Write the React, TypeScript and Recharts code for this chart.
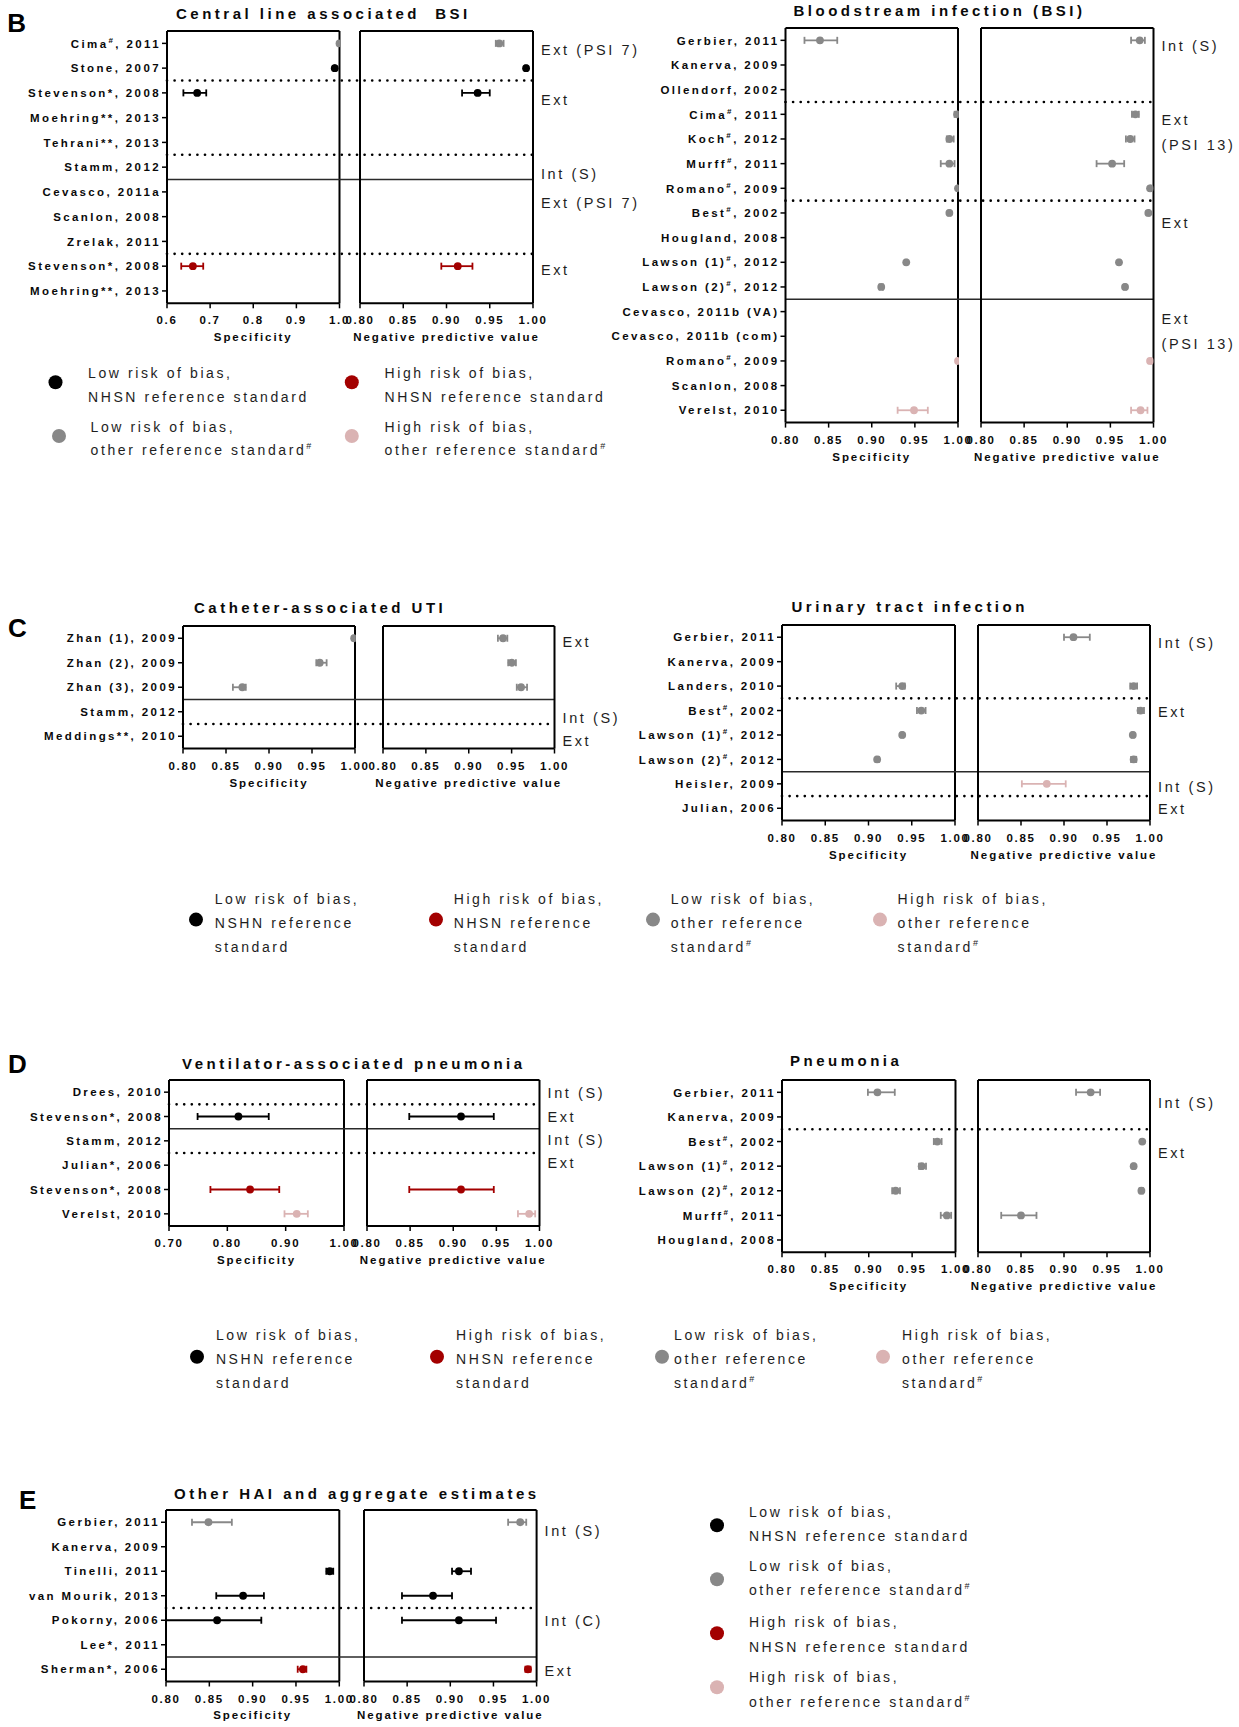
import React from 'react';
import { ScatterChart, Scatter, XAxis, YAxis, ErrorBar, ReferenceLine } from 'recharts';

// estimate, lower CI, upper CI
type Est = [number, number, number] | null;
// risk of bias + reference standard: low/high, NHSN/other
type Bias = 'ln' | 'lo' | 'hn' | 'ho';
// separator drawn below a row
type Brk = [number, 'dot' | 'line'];

const BIAS_COLOR: Record<Bias, string> = { ln: '#000000', lo: '#888888', hn: '#a30000', ho: '#dab3b3' };
const BIAS_ORDER: Bias[] = ['lo', 'ho', 'ln', 'hn'];

const ticks06 = [0.6, 0.7, 0.8, 0.9, 1.0];
const ticks07 = [0.7, 0.8, 0.9, 1.0];
const ticks08 = [0.8, 0.85, 0.9, 0.95, 1.0];

// B, left: central line associated BSI
const clabsiStudies = ['Cima#, 2011', 'Stone, 2007', 'Stevenson*, 2008', 'Moehring**, 2013', 'Tehrani**, 2013', 'Stamm, 2012', 'Cevasco, 2011a', 'Scanlon, 2008', 'Zrelak, 2011', 'Stevenson*, 2008', 'Moehring**, 2013'];
const clabsiBias: Bias[] = ['lo', 'ln', 'ln', 'ln', 'ln', 'ln', 'hn', 'hn', 'hn', 'hn', 'hn'];
const clabsiSpec: Est[] = [[1.0, 0.999, 1.0], [0.989, 0.988, 0.99], [0.67, 0.638, 0.691], null, null, null, null, null, null, [0.66, 0.633, 0.684], null];
const clabsiNpv: Est[] = [[0.961, 0.957, 0.966], [0.992, 0.991, 0.993], [0.936, 0.918, 0.95], null, null, null, null, null, null, [0.913, 0.894, 0.93], null];
const clabsiBreaks: Brk[] = [[1, 'dot'], [4, 'dot'], [5, 'line'], [8, 'dot']];
const clabsiGroups = ['Ext (PSI 7)', 'Ext', 'Int (S)', 'Ext (PSI 7)', 'Ext'];
const clabsiGroupRows = [0.28, 2.27, 5.26, 6.44, 9.16];

// B, right: bloodstream infection
const bsiStudies = ['Gerbier, 2011', 'Kanerva, 2009', 'Ollendorf, 2002', 'Cima#, 2011', 'Koch#, 2012', 'Murff#, 2011', 'Romano#, 2009', 'Best#, 2002', 'Hougland, 2008', 'Lawson (1)#, 2012', 'Lawson (2)#, 2012', 'Cevasco, 2011b (VA)', 'Cevasco, 2011b (com)', 'Romano#, 2009', 'Scanlon, 2008', 'Verelst, 2010'];
const bsiBias: Bias[] = ['lo', 'lo', 'lo', 'lo', 'lo', 'lo', 'lo', 'lo', 'lo', 'lo', 'lo', 'ho', 'ho', 'ho', 'ho', 'ho'];
const bsiSpec: Est[] = [[0.84, 0.822, 0.86], null, null, [0.999, 0.996, 1.0], [0.99, 0.987, 0.995], [0.99, 0.98, 0.996], [1.0, 0.999, 1.0], [0.99, 0.989, 0.991], null, [0.94, 0.939, 0.941], [0.911, 0.909, 0.913], null, null, [1.0, 1.0, 1.0], null, [0.949, 0.93, 0.965]];
const bsiNpv: Est[] = [[0.984, 0.974, 0.99], null, null, [0.979, 0.975, 0.983], [0.973, 0.968, 0.978], [0.952, 0.934, 0.966], [0.996, 0.996, 0.997], [0.994, 0.994, 0.995], null, [0.96, 0.959, 0.961], [0.967, 0.966, 0.968], null, null, [0.996, 0.996, 0.997], null, [0.985, 0.974, 0.993]];
const bsiBreaks: Brk[] = [[2, 'dot'], [6, 'dot'], [10, 'line']];
const bsiGroups = ['Int (S)', 'Ext\n(PSI 13)', 'Ext', 'Ext\n(PSI 13)'];
const bsiGroupRows = [0.24, 3.72, 7.4, 11.79];

// C, left: catheter-associated UTI
const cautiStudies = ['Zhan (1), 2009', 'Zhan (2), 2009', 'Zhan (3), 2009', 'Stamm, 2012', 'Meddings**, 2010'];
const cautiBias: Bias[] = ['lo', 'lo', 'lo', 'ln', 'ln'];
const cautiSpec: Est[] = [[0.999, 0.998, 1.0], [0.959, 0.955, 0.967], [0.869, 0.858, 0.873], null, null];
const cautiNpv: Est[] = [[0.94, 0.934, 0.945], [0.95, 0.946, 0.955], [0.961, 0.956, 0.968], null, null];
const cautiBreaks: Brk[] = [[2, 'line'], [3, 'dot']];
const cautiGroups = ['Ext', 'Int (S)', 'Ext'];
const cautiGroupRows = [0.14, 3.24, 4.21];

// C, right: urinary tract infection
const utiStudies = ['Gerbier, 2011', 'Kanerva, 2009', 'Landers, 2010', 'Best#, 2002', 'Lawson (1)#, 2012', 'Lawson (2)#, 2012', 'Heisler, 2009', 'Julian, 2006'];
const utiBias: Bias[] = ['lo', 'lo', 'lo', 'lo', 'lo', 'lo', 'ho', 'ho'];
const utiSpec: Est[] = [null, null, [0.939, 0.932, 0.942], [0.961, 0.956, 0.966], [0.939, 0.938, 0.94], [0.91, 0.909, 0.912], null, null];
const utiNpv: Est[] = [[0.911, 0.9, 0.93], null, [0.981, 0.977, 0.985], [0.989, 0.986, 0.993], [0.98, 0.979, 0.981], [0.981, 0.978, 0.984], [0.88, 0.851, 0.902], null];
const utiBreaks: Brk[] = [[2, 'dot'], [5, 'line'], [6, 'dot']];
const utiGroups = ['Int (S)', 'Ext', 'Int (S)', 'Ext'];
const utiGroupRows = [0.25, 3.07, 6.14, 7.04];

// D, left: ventilator-associated pneumonia
const vapStudies = ['Drees, 2010', 'Stevenson*, 2008', 'Stamm, 2012', 'Julian*, 2006', 'Stevenson*, 2008', 'Verelst, 2010'];
const vapBias: Bias[] = ['ln', 'ln', 'ln', 'hn', 'hn', 'ho'];
const vapSpec: Est[] = [null, [0.819, 0.749, 0.871], null, null, [0.839, 0.771, 0.889], [0.919, 0.898, 0.938]];
const vapNpv: Est[] = [null, [0.909, 0.849, 0.947], null, null, [0.909, 0.849, 0.947], [0.988, 0.975, 0.995]];
const vapBreaks: Brk[] = [[0, 'dot'], [1, 'line'], [2, 'dot']];
const vapGroups = ['Int (S)', 'Ext', 'Int (S)', 'Ext'];
const vapGroupRows = [0.05, 1.03, 1.97, 2.92];

// D, right: pneumonia
const pneuStudies = ['Gerbier, 2011', 'Kanerva, 2009', 'Best#, 2002', 'Lawson (1)#, 2012', 'Lawson (2)#, 2012', 'Murff#, 2011', 'Hougland, 2008'];
const pneuBias: Bias[] = ['lo', 'lo', 'lo', 'lo', 'lo', 'lo', 'lo'];
const pneuSpec: Est[] = [[0.91, 0.899, 0.93], null, [0.979, 0.975, 0.984], [0.961, 0.958, 0.966], [0.931, 0.927, 0.936], [0.99, 0.983, 0.995], null];
const pneuNpv: Est[] = [[0.931, 0.914, 0.942], null, [0.991, 0.99, 0.992], [0.981, 0.98, 0.982], [0.99, 0.988, 0.992], [0.85, 0.827, 0.868], null];
const pneuBreaks: Brk[] = [[1, 'dot']];
const pneuGroups = ['Int (S)', 'Ext'];
const pneuGroupRows = [0.45, 2.45];

// E: other HAI and aggregate estimates
const otherStudies = ['Gerbier, 2011', 'Kanerva, 2009', 'Tinelli, 2011', 'van Mourik, 2013', 'Pokorny, 2006', 'Lee*, 2011', 'Sherman*, 2006'];
const otherBias: Bias[] = ['lo', 'lo', 'ln', 'ln', 'ln', 'hn', 'hn'];
const otherSpec: Est[] = [[0.849, 0.83, 0.876], null, [0.989, 0.985, 0.993], [0.889, 0.858, 0.913], [0.859, 0.8, 0.91], null, [0.958, 0.952, 0.962]];
const otherNpv: Est[] = [[0.981, 0.967, 0.988], null, [0.91, 0.902, 0.924], [0.88, 0.844, 0.902], [0.91, 0.844, 0.953], null, [0.99, 0.987, 0.993]];
const otherBreaks: Brk[] = [[3, 'dot'], [5, 'line']];
const otherGroups = ['Int (S)', 'Int (C)', 'Ext'];
const otherGroupRows = [0.34, 4.02, 6.06];

// legend wording
const legendTwoLine: Record<Bias, string[]> = {
  ln: ['Low risk of bias,', 'NHSN reference standard'],
  hn: ['High risk of bias,', 'NHSN reference standard'],
  lo: ['Low risk of bias,', 'other reference standard#'],
  ho: ['High risk of bias,', 'other reference standard#'],
};
const legendThreeLine: Record<Bias, string[]> = {
  ln: ['Low risk of bias,', 'NSHN reference', 'standard'],
  hn: ['High risk of bias,', 'NHSN reference', 'standard'],
  lo: ['Low risk of bias,', 'other reference', 'standard#'],
  ho: ['High risk of bias,', 'other reference', 'standard#'],
};

type Box = { labelLeft: number; specL: number; specR: number; npvL: number; npvR: number; top: number; bottom: number };
type Panel = {
  title: string; titleX: number; titleY: number;
  studies: string[]; bias: Bias[]; spec: Est[]; npv: Est[]; breaks: Brk[];
  groups: string[]; groupRows: number[];
  specDomain: [number, number]; specTicks: number[]; specDigits: number;
  box: Box;
};

const panels: Panel[] = [
  { title: 'Central line associated  BSI', titleX: 176, titleY: 14, studies: clabsiStudies, bias: clabsiBias, spec: clabsiSpec, npv: clabsiNpv, breaks: clabsiBreaks, groups: clabsiGroups, groupRows: clabsiGroupRows, specDomain: [0.6, 1.0], specTicks: ticks06, specDigits: 1,
    box: { labelLeft: 0, specL: 167, specR: 339.5, npvL: 360, npvR: 533, top: 30.7, bottom: 303 } },
  { title: 'Bloodstream infection (BSI)', titleX: 793.5, titleY: 10.7, studies: bsiStudies, bias: bsiBias, spec: bsiSpec, npv: bsiNpv, breaks: bsiBreaks, groups: bsiGroups, groupRows: bsiGroupRows, specDomain: [0.8, 1.0], specTicks: ticks08, specDigits: 2,
    box: { labelLeft: 590, specL: 785.5, specR: 958, npvL: 980.5, npvR: 1153, top: 28.4, bottom: 423 } },
  { title: 'Catheter-associated UTI', titleX: 194, titleY: 607.3, studies: cautiStudies, bias: cautiBias, spec: cautiSpec, npv: cautiNpv, breaks: cautiBreaks, groups: cautiGroups, groupRows: cautiGroupRows, specDomain: [0.8, 1.0], specTicks: ticks08, specDigits: 2,
    box: { labelLeft: 0, specL: 183, specR: 355, npvL: 383, npvR: 554.5, top: 626, bottom: 748.5 } },
  { title: 'Urinary tract infection', titleX: 791.5, titleY: 606.7, studies: utiStudies, bias: utiBias, spec: utiSpec, npv: utiNpv, breaks: utiBreaks, groups: utiGroups, groupRows: utiGroupRows, specDomain: [0.8, 1.0], specTicks: ticks08, specDigits: 2,
    box: { labelLeft: 600, specL: 782, specR: 955, npvL: 978, npvR: 1150, top: 625, bottom: 820.5 } },
  { title: 'Ventilator-associated pneumonia', titleX: 182, titleY: 1064, studies: vapStudies, bias: vapBias, spec: vapSpec, npv: vapNpv, breaks: vapBreaks, groups: vapGroups, groupRows: vapGroupRows, specDomain: [0.7, 1.0], specTicks: ticks07, specDigits: 2,
    box: { labelLeft: 0, specL: 169, specR: 344, npvL: 367, npvR: 539.5, top: 1080, bottom: 1226 } },
  { title: 'Pneumonia', titleX: 790, titleY: 1060.7, studies: pneuStudies, bias: pneuBias, spec: pneuSpec, npv: pneuNpv, breaks: pneuBreaks, groups: pneuGroups, groupRows: pneuGroupRows, specDomain: [0.8, 1.0], specTicks: ticks08, specDigits: 2,
    box: { labelLeft: 600, specL: 782, specR: 955.5, npvL: 978, npvR: 1150, top: 1080, bottom: 1252.3 } },
  { title: 'Other HAI and aggregate estimates', titleX: 174, titleY: 1493.3, studies: otherStudies, bias: otherBias, spec: otherSpec, npv: otherNpv, breaks: otherBreaks, groups: otherGroups, groupRows: otherGroupRows, specDomain: [0.8, 1.0], specTicks: ticks08, specDigits: 2,
    box: { labelLeft: 0, specL: 166, specR: 339.3, npvL: 364, npvR: 536.6, top: 1510, bottom: 1681.5 } },
];

const PAD_T = 10;
const PAD_B = 6;
const PAD_L = 32;
const AXIS_H = 46;
const GROUP_W = 110;

const AXIS_LINE = { stroke: '#000', strokeWidth: 2 };
const TICK_LINE = { stroke: '#000', strokeWidth: 1.5 };
const BORDER = { stroke: '#000', strokeWidth: 2 };
const DOTTED = { stroke: '#000', strokeWidth: 2.7, strokeDasharray: '0 7.6', strokeLinecap: 'round' as const };
const SOLID = { stroke: '#2a2a2a', strokeWidth: 1.5 };

const FONT = "'Liberation Sans', Arial, Helvetica, sans-serif";
const CSS = `
body { margin: 0; background: #fff; }
.fig text { font-family: ${FONT}; }
.fig text.row-label { font-size: 11.5px; font-weight: 700; letter-spacing: 2.4px; fill: #0a0a0a; }
.fig text.x-tick { font-size: 11.5px; font-weight: 700; letter-spacing: 1.7px; fill: #0a0a0a; }
.fig text.axis-title { font-size: 11.5px; font-weight: 700; letter-spacing: 1.95px; fill: #0a0a0a; }
.fig text.grp-label { font-size: 14.5px; letter-spacing: 2.6px; fill: #1e1e1e; }
.fig text.panel-title { font-size: 15px; font-weight: 700; letter-spacing: 3.5px; fill: #0a0a0a; white-space: pre; }
.fig text.panel-letter { font-size: 26px; font-weight: 700; fill: #000; }
.fig text.legend-text { font-size: 14px; letter-spacing: 2.6px; fill: #1e1e1e; }
`;

// '#' in a label is set as a superscript
function Sup({ text, size, rise }: { text: string; size: number; rise: number }) {
  const i = text.indexOf('#');
  if (i < 0) return <>{text}</>;
  return (
    <>
      {text.slice(0, i)}
      <tspan dy={-rise} fontSize={size}>#</tspan>
      {i + 1 < text.length && <tspan dy={rise}>{text.slice(i + 1)}</tspan>}
    </>
  );
}

function StudyTick(props: any) {
  const { x, y, payload, labels } = props;
  const label: string = labels[payload.value] ?? '';
  return (
    <text x={x} y={y} dy={4.2} textAnchor="end" className="row-label">
      <Sup text={label} size={8} rise={5} />
    </text>
  );
}

function XTick(props: any) {
  const { x, y, payload, digits } = props;
  return (
    <text x={x} y={y} dy={8.2} textAnchor="middle" className="x-tick">
      {Number(payload.value).toFixed(digits)}
    </text>
  );
}

function GroupTick(props: any) {
  const { x, y, payload, rows, labels } = props;
  const k = rows.indexOf(payload.value);
  const lines: string[] = (labels[k] ?? '').split('\n');
  const lh = 25;
  const y0 = y - ((lines.length - 1) * lh) / 2 + 5;
  return (
    <text className="grp-label" x={x} y={y0} textAnchor="start">
      {lines.map((l, i) => (
        <tspan key={i} x={x} y={y0 + i * lh}>{l}</tspan>
      ))}
    </text>
  );
}

function axisTitle(value: string) {
  return { value, position: 'insideBottom' as const, offset: 8, className: 'axis-title', fill: '#0a0a0a', fontSize: 11.5, fontWeight: 700 };
}

function points(est: Est[], bias: Bias[], b: Bias) {
  return est.flatMap((e, row) => (e && bias[row] === b ? [{ row, v: e[0], err: [e[0] - e[1], e[2] - e[0]] }] : []));
}

function series(est: Est[], bias: Bias[]) {
  return BIAS_ORDER.map((b) => {
    const data = points(est, bias, b);
    if (!data.length) return null;
    const c = BIAS_COLOR[b];
    return (
      <Scatter key={b} yAxisId="rows" data={data} isAnimationActive={false}
        shape={(s: any) => <circle cx={s.cx} cy={s.cy} r={3.9} fill={c} />}>
        <ErrorBar dataKey="err" direction="x" width={3.5} stroke={c} strokeWidth={1.8} isAnimationActive={false} />
      </Scatter>
    );
  });
}

function Forest({ p }: { p: Panel }) {
  const b = p.box;
  const n = p.studies.length;
  const rowDomain: [number, number] = [-0.5, n - 0.5];
  const rowTicks = p.studies.map((_, i) => i);
  const plotH = b.bottom - b.top;
  const H = PAD_T + plotH + AXIS_H + PAD_B;
  const labelW = b.specL - b.labelLeft;
  const specPx = b.specR - b.specL;
  const npvPx = b.npvR - b.npvL;
  // the separators are drawn by the specificity chart straight through the NPV box
  const reach = b.npvR - b.specR;
  const [s0, s1] = p.specDomain;
  const sepEnd = s1 + (reach * (s1 - s0)) / specPx;

  return (
    <>
      <div style={{ position: 'absolute', left: b.labelLeft, top: b.top - PAD_T }}>
        <ScatterChart width={labelW + specPx + reach + 2} height={H}
          margin={{ top: PAD_T, right: reach + 2, bottom: PAD_B, left: 0 }}>
          <XAxis dataKey="v" type="number" domain={p.specDomain} ticks={p.specTicks} interval={0}
            allowDataOverflow height={AXIS_H} tickSize={5} tickMargin={8} axisLine={AXIS_LINE} tickLine={TICK_LINE}
            tick={(t: any) => <XTick {...t} digits={p.specDigits} />}
            label={axisTitle('Specificity')} />
          <YAxis yAxisId="rows" dataKey="row" type="number" domain={rowDomain} reversed allowDataOverflow
            ticks={rowTicks} interval={0} width={labelW} tickSize={5} tickMargin={1}
            axisLine={AXIS_LINE} tickLine={TICK_LINE}
            tick={(t: any) => <StudyTick {...t} labels={p.studies} />} />
          <ReferenceLine yAxisId="rows" y={-0.5} {...BORDER} />
          <ReferenceLine yAxisId="rows" x={s1} {...BORDER} />
          {p.breaks.map(([after, kind]) => (
            <ReferenceLine key={after} yAxisId="rows" ifOverflow="visible"
              segment={[{ x: s0, y: after + 0.5 }, { x: sepEnd, y: after + 0.5 }]}
              {...(kind === 'dot' ? DOTTED : SOLID)} />
          ))}
          {series(p.spec, p.bias)}
        </ScatterChart>
      </div>
      <div style={{ position: 'absolute', left: b.npvL - PAD_L, top: b.top - PAD_T }}>
        <ScatterChart width={PAD_L + npvPx + GROUP_W} height={H}
          margin={{ top: PAD_T, right: 0, bottom: PAD_B, left: PAD_L }}>
          <XAxis dataKey="v" type="number" domain={[0.8, 1.0]} ticks={ticks08} interval={0}
            allowDataOverflow height={AXIS_H} tickSize={5} tickMargin={8} axisLine={AXIS_LINE} tickLine={TICK_LINE}
            tick={(t: any) => <XTick {...t} digits={2} />}
            label={axisTitle('Negative predictive value')} />
          <YAxis yAxisId="rows" dataKey="row" type="number" domain={rowDomain} reversed allowDataOverflow hide />
          <YAxis yAxisId="groups" orientation="right" dataKey="row" type="number" domain={rowDomain} reversed
            allowDataOverflow ticks={p.groupRows} interval={0} width={GROUP_W} tickLine={false} tickSize={0}
            tickMargin={8} axisLine={AXIS_LINE}
            tick={(t: any) => <GroupTick {...t} rows={p.groupRows} labels={p.groups} />} />
          <ReferenceLine yAxisId="rows" y={-0.5} {...BORDER} />
          <ReferenceLine yAxisId="rows" x={0.8} {...BORDER} />
          {series(p.npv, p.bias)}
        </ScatterChart>
      </div>
    </>
  );
}

type LegendItem = { bias: Bias; cx: number; cy: number; tx: number; ty: number; gap: number; lines: string[] };

const legendItems: LegendItem[] = [
  // B
  { bias: 'ln', cx: 55.5, cy: 382.3, tx: 88, ty: 373.3, gap: 24, lines: legendTwoLine.ln },
  { bias: 'hn', cx: 351.8, cy: 382.3, tx: 384.5, ty: 373.3, gap: 24, lines: legendTwoLine.hn },
  { bias: 'lo', cx: 59, cy: 436, tx: 90.6, ty: 426.7, gap: 23.5, lines: legendTwoLine.lo },
  { bias: 'ho', cx: 351.8, cy: 436, tx: 384.5, ty: 426.7, gap: 23.5, lines: legendTwoLine.ho },
  // C
  { bias: 'ln', cx: 196, cy: 919.6, tx: 214.7, ty: 898.7, gap: 24.2, lines: legendThreeLine.ln },
  { bias: 'hn', cx: 436, cy: 919.6, tx: 453.7, ty: 898.7, gap: 24.2, lines: legendThreeLine.hn },
  { bias: 'lo', cx: 653, cy: 919.6, tx: 670.7, ty: 898.7, gap: 24.2, lines: legendThreeLine.lo },
  { bias: 'ho', cx: 880, cy: 919.6, tx: 897.6, ty: 898.7, gap: 24.2, lines: legendThreeLine.ho },
  // D
  { bias: 'ln', cx: 197, cy: 1356.8, tx: 215.9, ty: 1334.8, gap: 24.2, lines: legendThreeLine.ln },
  { bias: 'hn', cx: 437, cy: 1356.8, tx: 456, ty: 1334.8, gap: 24.2, lines: legendThreeLine.hn },
  { bias: 'lo', cx: 662, cy: 1356.8, tx: 674, ty: 1334.8, gap: 24.2, lines: legendThreeLine.lo },
  { bias: 'ho', cx: 883, cy: 1356.8, tx: 902, ty: 1334.8, gap: 24.2, lines: legendThreeLine.ho },
  // E
  { bias: 'ln', cx: 717, cy: 1525.3, tx: 748.9, ty: 1512, gap: 24.3, lines: legendTwoLine.ln },
  { bias: 'lo', cx: 717, cy: 1579.3, tx: 748.9, ty: 1566, gap: 24.3, lines: legendTwoLine.lo },
  { bias: 'hn', cx: 717, cy: 1633.2, tx: 748.9, ty: 1622.2, gap: 24.3, lines: legendTwoLine.hn },
  { bias: 'ho', cx: 717, cy: 1687.2, tx: 748.9, ty: 1677.3, gap: 24.3, lines: legendTwoLine.ho },
];

const panelLetters: [string, number, number][] = [['B', 7.3, 22.5], ['C', 8, 628], ['D', 8, 1064], ['E', 19, 1500]];

function Overlay() {
  return (
    <svg width={1239} height={1727} style={{ position: 'absolute', left: 0, top: 0, pointerEvents: 'none' }}>
      {panelLetters.map(([t, x, y]) => (
        <text key={t} className="panel-letter" x={x} y={y + 9.3}>{t}</text>
      ))}
      {panels.map((p) => (
        <text key={p.title} className="panel-title" x={p.titleX} y={p.titleY + 5.4}>{p.title}</text>
      ))}
      {legendItems.map((it, k) => (
        <g key={k}>
          <circle cx={it.cx} cy={it.cy} r={7} fill={BIAS_COLOR[it.bias]} />
          {it.lines.map((l, i) => (
            <text key={i} className="legend-text" x={it.tx} y={it.ty + i * it.gap + 5}>
              <Sup text={l} size={9} rise={6} />
            </text>
          ))}
        </g>
      ))}
    </svg>
  );
}

export default function App() {
  return (
    <div className="fig" style={{ position: 'relative', width: 1239, height: 1727, background: '#fff', overflow: 'hidden' }}>
      <style>{CSS}</style>
      <Overlay />
      {panels.map((p) => (
        <Forest key={p.title} p={p} />
      ))}
    </div>
  );
}
